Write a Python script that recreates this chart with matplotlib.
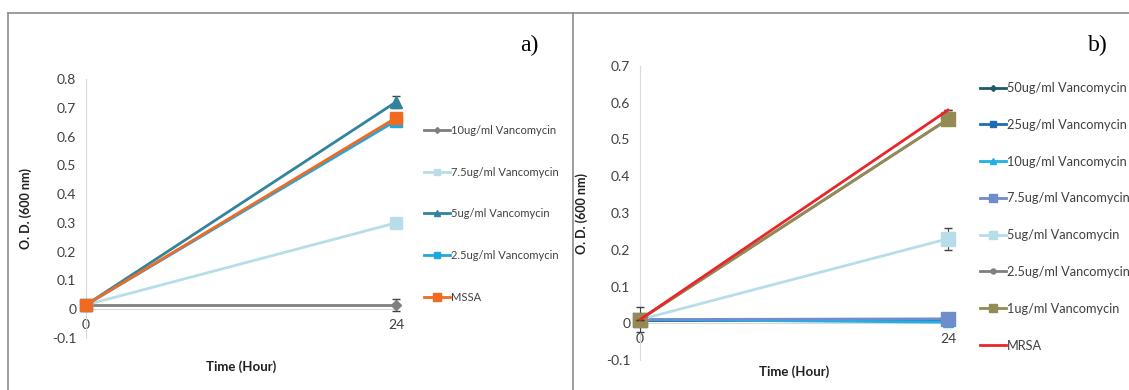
import matplotlib
matplotlib.use("Agg")
import matplotlib.pyplot as plt
from matplotlib.lines import Line2D

# data
time = [0, 24]

labels_a = ["10ug/ml Vancomycin", "7.5ug/ml Vancomycin", "5ug/ml Vancomycin",
            "2.5ug/ml Vancomycin", "MSSA"]
od_a = [[0.015, 0.015], [0.015, 0.30], [0.015, 0.72], [0.015, 0.655], [0.015, 0.665]]
err_a = [[0, 0.02], [0, 0], [0, 0.02], [0, 0], [0, 0]]
colors_a = ["#7f7f7f", "#b7dde8", "#31849b", "#1fa8e0", "#f26a21"]
markers_a = ["D", "s", "^", "s", "s"]
msize_a = [5, 8, 8, 8, 9]

labels_b = ["50ug/ml Vancomycin", "25ug/ml Vancomycin", "10ug/ml Vancomycin",
            "7.5ug/ml Vancomycin", "5ug/ml Vancomycin", "2.5ug/ml Vancomycin",
            "1ug/ml Vancomycin", "MRSA"]
od_b = [[0.01, 0.01], [0.01, 0.01], [0.01, 0.003], [0.01, 0.012],
        [0.01, 0.23], [0.01, 0.555], [0.01, 0.555], [0.01, 0.58]]
err_b = [[0, 0], [0, 0], [0, 0], [0, 0], [0, 0.03], [0, 0], [0.033, 0], [0, 0]]
colors_b = ["#215967", "#1f6cb4", "#1fb1e6", "#6f8dcb", "#b7dde8", "#808080",
            "#948a54", "#e8262b"]
markers_b = ["D", "s", "^", "s", "s", "o", "s", None]
msize_b = [5, 7, 7, 10, 10, 6, 10, 0]

txt = "#404040"
plt.rcParams["font.family"] = ["Lato", "DejaVu Sans"]

fig = plt.figure(figsize=(11.29, 3.9), dpi=100)

# panel frames
for x0, y0, x1, y1 in [(8, 13, 1129, 13), (8, 13, 8, 390), (573, 13, 573, 390)]:
    fig.add_artist(Line2D([x0 / 1129, x1 / 1129], [1 - y0 / 390, 1 - y1 / 390],
                          color="#8c8c8c", lw=1.2))


def style(ax, ymin, ymax):
    ax.set_xlim(0, 24)
    ax.set_ylim(ymin, ymax)
    ax.set_xticks(time)
    ax.set_yticks([round(v * 0.1, 1) for v in range(int(round(ymin * 10)), int(round(ymax * 10)) + 1)])
    ax.yaxis.set_major_formatter(plt.FuncFormatter(lambda v, p: "0" if abs(v) < 1e-9 else f"{v:g}"))
    for s in ["top", "right"]:
        ax.spines[s].set_visible(False)
    ax.spines["bottom"].set_position(("data", 0))
    ax.spines["bottom"].set_color("#d9d9d9")
    ax.spines["left"].set_color("#d9d9d9")
    ax.tick_params(length=0, labelsize=10, colors=txt, pad=7)
    ax.patch.set_alpha(0)


# panel a
ax1 = fig.add_axes([86 / 1129, 52 / 390, 310 / 1129, 259 / 390])
style(ax1, -0.1, 0.8)
for i in range(len(labels_a)):
    ax1.errorbar(time, od_a[i], yerr=err_a[i], color=colors_a[i], marker=markers_a[i],
                 markersize=msize_a[i], lw=2, ecolor="#404040", elinewidth=0.8,
                 capsize=3, label=labels_a[i], clip_on=False, zorder=3)
ax1.set_ylabel("O. D. (600 nm)", fontsize=9, fontweight="bold", color="#202020")
ax1.yaxis.set_label_coords(-0.174, 0.5)
ax1.text(12, -0.2, "Time (Hour)", ha="center", va="center", fontsize=9.5,
         fontweight="bold", color="#202020")
fig.text(520 / 1129, 1 - 45 / 390, "a)", fontsize=17, family="Liberation Serif",
         ha="left", va="center")
h, l = ax1.get_legend_handles_labels()
h = [x[0] for x in h]
fig.legend(h, l, loc="upper left", bbox_to_anchor=(424 / 1129, 1 - 125 / 390),
           frameon=False, fontsize=8, labelspacing=2.76, handlelength=2.3,
           handletextpad=0.1, markerscale=0.6, labelcolor=txt,
           borderpad=0, borderaxespad=0)

# panel b
ax2 = fig.add_axes([640 / 1129, 30 / 390, 308 / 1129, 294 / 390])
style(ax2, -0.1, 0.7)
for i in range(len(labels_b)):
    ax2.errorbar(time, od_b[i], yerr=err_b[i], color=colors_b[i], marker=markers_b[i],
                 markersize=msize_b[i], lw=2, ecolor="#404040", elinewidth=0.8,
                 capsize=3, label=labels_b[i], clip_on=False, zorder=3 + i * 0.1)
ax2.set_ylabel("O. D. (600 nm)", fontsize=9, fontweight="bold", color="#202020")
ax2.yaxis.set_label_coords(-0.169, 0.5)
ax2.text(12, -0.132, "Time (Hour)", ha="center", va="center", fontsize=9.5,
         fontweight="bold", color="#202020")
fig.text(1088 / 1129, 1 - 45 / 390, "b)", fontsize=17, family="Liberation Serif",
         ha="left", va="center")
h, l = ax2.get_legend_handles_labels()
h = [x[0] for x in h]
fig.legend(h, l, loc="upper left", bbox_to_anchor=(980 / 1129, 1 - 82 / 390),
           frameon=False, fontsize=9.2, labelspacing=1.94, handlelength=2.0,
           handletextpad=0.1, markerscale=0.6, labelcolor=txt,
           borderpad=0, borderaxespad=0)

fig.savefig("out.png", dpi=100)
